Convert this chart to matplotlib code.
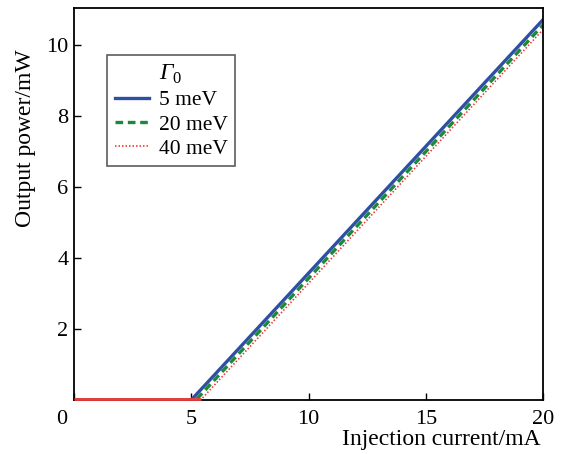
import matplotlib
matplotlib.use("Agg")
import matplotlib.pyplot as plt
import matplotlib.transforms as mtransforms

plt.rcParams['font.family'] = ['Liberation Serif', 'DejaVu Serif']
plt.rcParams['mathtext.fontset'] = 'custom'
plt.rcParams['mathtext.rm'] = 'Liberation Serif'
plt.rcParams['mathtext.sf'] = 'Liberation Serif:italic'

# injection current (mA) and output power (mW) for each linewidth
current_5 = [0, 5.0, 20]
power_5 = [0, 0, 10.72]
current_20 = [0, 5.2, 20]
power_20 = [0, 0, 10.57]
current_40 = [0, 5.4, 20]
power_40 = [0, 0, 10.44]

labels = ['5 meV', '20 meV', '40 meV']

fig = plt.figure(figsize=(5.65, 4.54), dpi=100)
ax = fig.add_axes([74 / 565, 54 / 454, 469 / 565, 392 / 454])

ax.plot(current_5, power_5, color='#2f4fa2', lw=2.4, ls='-', label=labels[0])
ax.plot(current_20, power_20, color='#1a8a3a', lw=2.4, ls=(0, (2.3, 1.4)), label=labels[1])
ax.plot(current_40, power_40, color='#ee3a3a', lw=1.2, ls=(0, (0.9, 1.2)), label=labels[2])
# threshold region drawn in red on top of the axis line
ax.plot(current_40[:2], power_40[:2], color='#ee3a3a', lw=2.0,
        solid_capstyle='butt', zorder=3, clip_on=False,
        transform=ax.transData + mtransforms.ScaledTranslation(0, 1.5 / 100, fig.dpi_scale_trans))

ax.set_xlim(0, 20)
ax.set_ylim(0, 11.05)
ax.set_xticks([0, 5, 10, 15, 20])
ax.set_yticks([2, 4, 6, 8, 10])
ax.tick_params(direction='in', length=5, width=1, labelsize=16)
ax.tick_params(axis='y', pad=4)
ax.tick_params(axis='x', pad=7)
for s in ax.spines.values():
    s.set_linewidth(1.3)

# shift the "0" x label left like the original
zero_lbl = ax.get_xticklabels()[0]
zero_lbl.set_transform(zero_lbl.get_transform() +
                       mtransforms.ScaledTranslation(-12 / 100, 0, fig.dpi_scale_trans))

ax.set_ylabel('Output power/mW', fontsize=17)
ax.yaxis.set_label_coords(-0.082, 0.895)
ax.yaxis.label.set_ha('right')
ax.set_xlabel('Injection current/mA', fontsize=17)
ax.xaxis.set_label_coords(0.995, -0.075)
ax.xaxis.label.set_ha('right')

leg = ax.legend(title=r'$\mathsf{\Gamma}_0$', loc='upper left',
                bbox_to_anchor=(0.0704, 0.880), fontsize=15.5, title_fontsize=17,
                frameon=True, fancybox=False, edgecolor='#333333',
                handlelength=1.6, handletextpad=0.45, borderpad=0.35,
                labelspacing=0.2, borderaxespad=0)
leg.get_frame().set_linewidth(1.2)

fig.savefig('out.png', dpi=100)
